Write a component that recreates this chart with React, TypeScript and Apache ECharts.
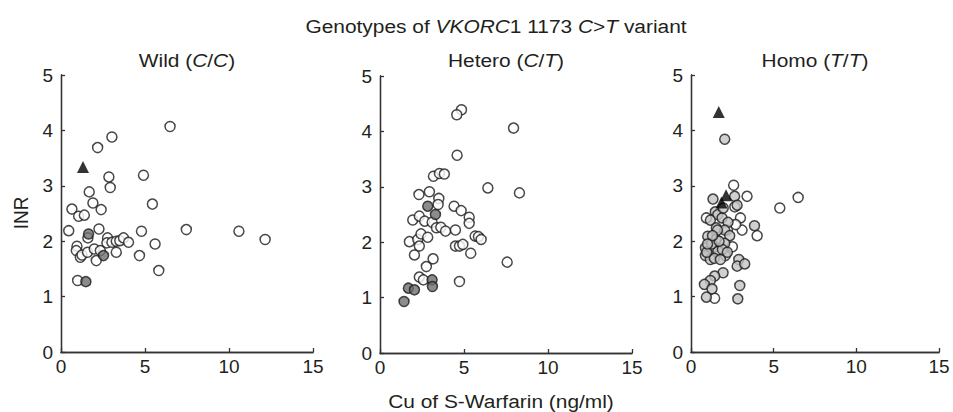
import React, { useEffect, useRef } from "react";
import * as echarts from "echarts";

const panelTitles = ["Wild", "Hetero", "Homo"];
const panelGenotypes = ["C/C", "C/T", "T/T"];
const xTicks = [0, 5, 10, 15];
const yTicks = [0, 1, 2, 3, 4, 5];

const wildOpen: number[][] = [
  [6.49, 4.07], [3.03, 3.88], [2.18, 3.69], [4.91, 3.19], [2.85, 3.16], [2.93, 2.97],
  [1.68, 2.89], [1.9, 2.69], [5.44, 2.67], [0.65, 2.58], [2.39, 2.57], [1.05, 2.45],
  [1.39, 2.47], [0.46, 2.19], [2.26, 2.22], [4.79, 2.18], [7.46, 2.21], [10.59, 2.18],
  [12.15, 2.03], [1.6, 2.06], [2.77, 2.06], [0.95, 1.91], [0.91, 1.83], [1.15, 1.71],
  [1.25, 1.75], [1.58, 1.8], [1.98, 1.86], [2.1, 1.65], [2.34, 1.83], [2.73, 1.97],
  [3.03, 1.98], [3.29, 2.0], [3.5, 2.01], [3.72, 2.06], [4.02, 1.98], [3.29, 1.8],
  [4.67, 1.74], [5.6, 1.95], [5.82, 1.47], [0.99, 1.29],
];
const wildGrey: number[][] = [[1.64, 2.13], [2.53, 1.74], [1.48, 1.27]];
const wildTri: number[][] = [[1.31, 3.34]];

const heteroOpen: number[][] = [
  [4.85, 4.39], [4.57, 4.3], [7.95, 4.06], [4.59, 3.57], [3.18, 3.19], [3.54, 3.24],
  [3.83, 3.23], [6.42, 2.98], [8.3, 2.89], [2.32, 2.86], [2.94, 2.91], [3.5, 2.79],
  [3.46, 2.68], [4.41, 2.65], [4.83, 2.57], [5.31, 2.45], [5.31, 2.34], [1.95, 2.4],
  [2.34, 2.47], [2.66, 2.38], [3.1, 2.36], [3.36, 2.26], [3.62, 2.27], [3.9, 2.2],
  [4.49, 2.22], [1.75, 2.01], [2.25, 2.05], [2.44, 2.15], [2.84, 2.09], [2.34, 1.93],
  [2.05, 1.77], [4.49, 1.93], [4.73, 1.93], [4.93, 1.96], [5.66, 2.11], [5.86, 2.1],
  [6.02, 2.05], [5.4, 1.8], [3.16, 1.7], [2.76, 1.56], [2.34, 1.37], [2.58, 1.32],
  [4.73, 1.29], [7.57, 1.64],
];
const heteroGrey: number[][] = [
  [2.84, 2.65], [3.3, 2.5], [3.1, 1.32], [3.12, 1.2], [1.69, 1.17], [2.05, 1.14], [1.43, 0.93],
];
const heteroTri: number[][] = [];

const homoOpen: number[][] = [
  [2.58, 3.01], [3.39, 2.81], [5.37, 2.6], [6.48, 2.79], [2.99, 2.42], [3.09, 2.2],
  [4.0, 2.1], [0.93, 2.42], [1.43, 0.97], [2.7, 2.3], [2.5, 1.9], [2.2, 2.2], [2.65, 2.62],
];
const homoGrey: number[][] = [
  [2.04, 3.84], [1.33, 2.76], [2.64, 2.81], [2.79, 2.65], [1.47, 2.53], [1.62, 2.48],
  [1.17, 2.38], [1.88, 2.42], [2.24, 2.34], [1.53, 2.24], [2.04, 2.2], [2.34, 2.1],
  [1.01, 2.09], [1.53, 2.03], [2.04, 1.96], [0.87, 1.88], [1.17, 1.84], [1.4, 1.9],
  [1.62, 1.82], [2.08, 1.74], [0.87, 1.74], [1.17, 1.67], [1.41, 1.69], [1.78, 1.67],
  [1.9, 1.85], [1.25, 1.95], [1.7, 2.0], [2.2, 1.8], [0.95, 1.8], [2.89, 1.67],
  [2.79, 1.55], [3.25, 1.59], [3.84, 2.28], [1.94, 1.43], [1.43, 1.37], [1.17, 1.29],
  [0.81, 1.22], [1.27, 1.14], [2.95, 1.2], [0.93, 0.99], [2.83, 0.96], [1.6, 2.2],
  [1.95, 2.6], [1.3, 2.1], [1.0, 1.95],
];
const homoTri: number[][] = [[1.68, 4.33], [2.12, 2.83], [1.84, 2.7]];

const openSets = [wildOpen, heteroOpen, homoOpen];
const greySets = [wildGrey, heteroGrey, homoGrey];
const triSets = [wildTri, heteroTri, homoTri];
const greyColors = ["#6f6f6f", "#6f6f6f", "#c4c4c4"];

const FONT = "'Liberation Sans', Arial, Helvetica, sans-serif";
const TXT = "#231f20";
const TS = 19;
const SX = 1.1;

const grids = [
  { left: 61, top: 75, width: 252, height: 277 },
  { left: 380, top: 76, width: 252, height: 277 },
  { left: 691, top: 75, width: 248, height: 277 },
];

export default function App() {
  const ref = useRef<HTMLDivElement>(null);
  useEffect(() => {
    if (!ref.current) return;
    const chart = echarts.init(ref.current, undefined, { renderer: "svg" });
    const xAxis = grids.map((_, i) => ({
      type: "value" as const,
      gridIndex: i,
      min: xTicks[0],
      max: xTicks[xTicks.length - 1],
      interval: 5,
      axisLine: { show: true, lineStyle: { color: "#333", width: 1.3 } },
      axisTick: { show: true, inside: true, length: 4, lineStyle: { color: "#333", width: 1.3 } },
      axisLabel: { fontSize: 19, color: TXT, fontFamily: FONT, margin: 5 },
      splitLine: { show: false },
    }));
    const xTop = grids.map((_, i) => ({
      type: "value" as const,
      gridIndex: i,
      position: "top" as const,
      min: 0,
      max: 15,
      interval: 5,
      axisLine: { show: true, lineStyle: { color: "#333", width: 1.3 } },
      axisTick: { show: false },
      axisLabel: { show: false },
      splitLine: { show: false },
    }));
    const yAxis = grids.map((_, i) => ({
      type: "value" as const,
      gridIndex: i,
      min: yTicks[0],
      max: yTicks[yTicks.length - 1],
      interval: 1,
      axisLine: { show: true, lineStyle: { color: "#333", width: 1.3 } },
      axisTick: { show: true, inside: true, length: 4, lineStyle: { color: "#333", width: 1.3 } },
      axisLabel: { fontSize: 19, color: TXT, fontFamily: FONT, margin: 8 },
      splitLine: { show: false },
    }));
    const yRight = grids.map((_, i) => ({
      type: "value" as const,
      gridIndex: i,
      position: "right" as const,
      min: 0,
      max: 5,
      interval: 1,
      axisLine: { show: true, lineStyle: { color: "#333", width: 1.3 } },
      axisTick: { show: false },
      axisLabel: { show: false },
      splitLine: { show: false },
    }));
    const series: any[] = [];
    grids.forEach((_, i) => {
      series.push({
        type: "scatter",
        xAxisIndex: i,
        yAxisIndex: i,
        data: openSets[i],
        symbol: "circle",
        symbolSize: 10,
        itemStyle: { color: "#ffffff", borderColor: "#1a1a1a", borderWidth: 1.5 },
        z: 2,
      });
      series.push({
        type: "scatter",
        xAxisIndex: i,
        yAxisIndex: i,
        data: greySets[i],
        symbol: "circle",
        symbolSize: 10,
        itemStyle: { color: greyColors[i], borderColor: "#1a1a1a", borderWidth: 1.5 },
        z: 3,
      });
      series.push({
        type: "scatter",
        xAxisIndex: i,
        yAxisIndex: i,
        data: triSets[i],
        symbol: "triangle",
        symbolSize: 12,
        itemStyle: { color: "#000000" },
        z: 4,
      });
    });
    const richIt = { it: { fontStyle: "italic", fontSize: TS, fontFamily: FONT, fill: TXT } };
    const subTitles = grids.map((g, i) => {
      const [a, b] = panelGenotypes[i].split("/");
      return {
        type: "text",
        x: g.left + g.width / 2,
        y: 60,
        scaleX: SX,
        style: {
          text: `${panelTitles[i]} ({it|${a}}/{it|${b}})`,
          font: `${TS}px ${FONT}`,
          fill: TXT,
          align: "center",
          verticalAlign: "middle",
          rich: richIt,
        },
      };
    });
    chart.setOption({
      animation: false,
      backgroundColor: "#ffffff",
      grid: grids,
      xAxis: [...xAxis, ...xTop],
      yAxis: [...yAxis, ...yRight],
      series,
      graphic: [
        {
          type: "text",
          x: 496,
          y: 26,
          scaleX: SX,
          style: {
            text: "Genotypes of {it|VKORC}1 1173 {it|C}>{it|T} variant",
            font: `${TS}px ${FONT}`,
            fill: TXT,
            align: "center",
            verticalAlign: "middle",
            rich: richIt,
          },
        },
        ...subTitles,
        {
          type: "text",
          x: 501,
          y: 401,
          scaleX: SX,
          style: {
            text: "Cu of S-Warfarin (ng/ml)",
            font: `${TS}px ${FONT}`,
            fill: TXT,
            align: "center",
            verticalAlign: "middle",
          },
        },
        {
          type: "text",
          x: 21,
          y: 213,
          rotation: Math.PI / 2,
          scaleY: SX,
          style: {
            text: "INR",
            font: `${TS}px ${FONT}`,
            fill: TXT,
            align: "center",
            verticalAlign: "middle",
          },
        },
      ],
    });
    return () => chart.dispose();
  }, []);
  return (
    <div
      ref={ref}
      style={{ position: "fixed", left: 0, top: 0, width: 953, height: 412 }}
    />
  );
}
